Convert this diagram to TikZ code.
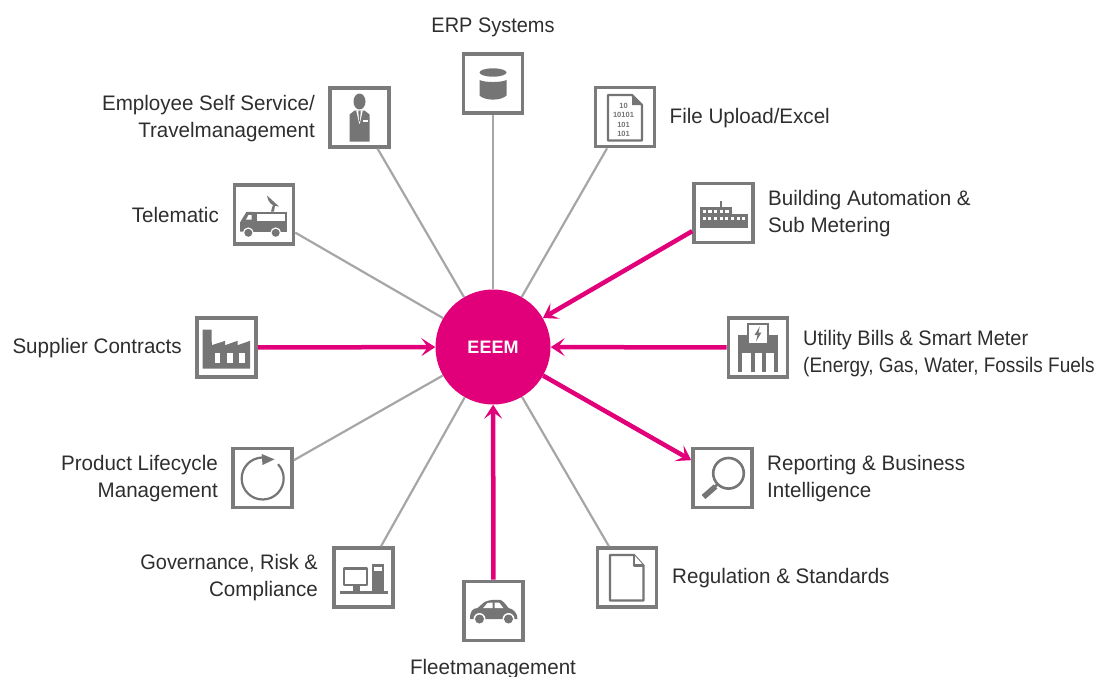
\documentclass[tikz,border=0pt]{standalone}
\usepackage{fontspec}
\setmainfont{Liberation Sans}
\newfontfamily\lblfont[FakeStretch=0.98]{Liberation Sans}
\newfontfamily\lblmid[FakeStretch=0.95]{Liberation Sans}
\newfontfamily\lblnarrow[FakeStretch=0.905]{Liberation Sans}
\usetikzlibrary{arrows.meta}
\definecolor{mag}{HTML}{E2007A}
\definecolor{boxgrey}{HTML}{7B7B7B}
\definecolor{icong}{HTML}{757575}
\definecolor{linegrey}{HTML}{A6A6A6}
\definecolor{txt}{HTML}{2E2E2E}
\tikzset{
  iconbox/.style={draw=boxgrey,line width=3.6pt,fill=white,minimum size=59pt,inner sep=0pt,outer sep=1.8pt},
  hub/.style={circle,fill=mag,text=white,minimum size=115pt,inner sep=0pt,font=\fontsize{18}{20}\selectfont\bfseries},
  lbl/.style={text=txt,font=\lblfont\fontsize{21}{27}\selectfont,inner sep=0pt},
  lblr/.style={lbl,anchor=east,align=right},
  lbll/.style={lbl,anchor=west,align=left},
  thin link/.style={draw=linegrey,line width=2.2pt},
  hot link/.style={draw=mag,line width=4.5pt,-{Stealth[length=14pt,width=18pt,inset=6.5pt]}},
  ink/.style={fill=icong,draw=none},
  hole/.style={fill=white,draw=none},
  edge line/.style={draw=icong,line width=2.2pt,fill=none,line join=round}
}
\begin{document}
\begin{tikzpicture}[x=1pt,y=-1pt]
\useasboundingbox (0,0) rectangle (1098,677);
% boxes and hub
\node[hub] (eeem) at (493,347) {EEEM};
\node[iconbox] (erp) at (493,83.5) {};
\node[iconbox] (ess) at (359.5,117.5) {};
\node[iconbox] (tele) at (264,214.5) {};
\node[iconbox] (file) at (625,117) {};
\node[iconbox] (bldg) at (723.5,213) {};
\node[iconbox] (util) at (758,347.5) {};
\node[iconbox] (rep) at (722.5,478) {};
\node[iconbox] (reg) at (627,577.5) {};
\node[iconbox] (fleet) at (493.5,611) {};
\node[iconbox] (gov) at (363.5,577.5) {};
\node[iconbox] (plm) at (262.5,478) {};
\node[iconbox] (sup) at (226.5,347.5) {};
% connectors
\draw[thin link] (erp) -- (eeem);
\draw[thin link] (ess) -- (eeem);
\draw[thin link] (tele) -- (eeem);
\draw[thin link] (file) -- (eeem);
\draw[thin link] (reg) -- (eeem);
\draw[thin link] (gov) -- (eeem);
\draw[thin link] (plm) -- (eeem);
\draw[hot link] (bldg) -- (eeem);
\draw[hot link] (util) -- (eeem);
\draw[hot link] (sup) -- (eeem);
\draw[hot link] (fleet) -- (eeem);
\draw[hot link] (eeem) -- (rep);
% labels
\node[lbl,font=\lblmid\fontsize{21}{27}\selectfont] (lerp) at (493,27.5) {ERP Systems};
\node[lblr] (less) at (315,119) {Employee Self Service/\\Travelmanagement};
\node[lblr] (ltele) at (219,215) {Telematic};
\node[lblr] (lsup) at (182,348) {Supplier Contracts};
\node[lblr] (lplm) at (218,479) {Product Lifecycle\\Management};
\node[lblr] (lgov) at (318,578) {{\lblmid Governance, Risk \&}\\Compliance};
\node[lbl] (lfleet) at (493,669) {Fleetmanagement};
\node[lbll] (lfile) at (669.5,118) {File Upload/Excel};
\node[lbll] (lbldg) at (768,214) {Building Automation \&\\Sub Metering};
\node[lbll] (lutil) at (803,354) {{\lblmid Utility Bills \& Smart Meter}\\{\lblnarrow (Energy, Gas, Water, Fossils Fuels}};
\node[lbll] (lrep) at (767,479) {Reporting \& Business\\Intelligence};
\node[lbll] (lreg) at (672,578) {Regulation \& Standards};
% icon: database
\begin{scope}[shift={(erp.center)}]
  \fill[ink] (0,-11) ellipse[x radius=13.5pt,y radius=4.2pt];
  \fill[ink] (-13.5,-3.5) .. controls (-8,-0.8) and (8,-0.8) .. (13.5,-3.5) -- (13.5,12) .. controls (8,17.5) and (-8,17.5) .. (-13.5,12) -- cycle;
\end{scope}
% icon: person
\begin{scope}[shift={(ess.center)}]
  \fill[ink] (0,-16) ellipse[x radius=6pt,y radius=8pt];
  \fill[ink] (-10,24) -- (-10,-3) -- (-5,-7) -- (5,-7) -- (10,-3) -- (10,24) -- cycle;
  \fill[hole] (-1.6,-7.2) -- (0,-4) -- (1.6,-7.2) -- (3.2,-6.5) -- (0.3,6) -- (-0.3,6) -- (-3.2,-6.5) -- cycle;
  \fill[ink] (-1.3,-6) -- (1.3,-6) -- (0.2,4) -- (-0.2,4) -- cycle;
  \fill[hole] (3.5,2.5) rectangle (8,4);
\end{scope}
% icon: van
\begin{scope}[shift={(tele.center)}]
  \fill[ink] (-10.7,-2.7) rectangle (23.3,17);
  \fill[ink] (-10.7,-2.7) -- (-17.5,-2.7) -- (-24,8) -- (-24,17) -- (-10.7,17) -- cycle;
  \fill[hole] (-7.3,-0.3) rectangle (21,6.3);
  \fill[hole] (-12.5,0.5) -- (-15.5,0.5) -- (-18,5) -- (-12.5,5) -- cycle;
  \fill[hole] (-15.7,18.3) circle[radius=5.4pt];
  \fill[hole] (11.7,18.3) circle[radius=5.4pt];
  \fill[ink] (-15.7,18.3) circle[radius=4pt];
  \fill[ink] (11.7,18.3) circle[radius=4pt];
  \fill[ink] (7,-3) -- (9,-10) -- (11,-9) -- (10,-3) -- cycle;
  \fill[ink] (3,-19) .. controls (4,-12) and (8,-8) .. (15,-8) -- cycle;
\end{scope}
% icon: binary document
\begin{scope}[shift={(file.center)}]
  \draw[edge line] (-17,-22) -- (7,-22) -- (17,-12) -- (17,23.5) -- (-17,23.5) -- cycle;
  \fill[ink] (7,-22) -- (7,-12) -- (17,-12) -- cycle;
  \node[text=icong,font=\fontsize{7.5}{9.4}\selectfont\bfseries,align=center,inner sep=0pt] (bits) at (-1.5,3) {10\\10101\\101\\101};
\end{scope}
% icon: building
\begin{scope}[shift={(bldg.center)}]
  \fill[ink] (-23.5,-6) rectangle (8,15);
  \fill[ink] (8,1) rectangle (24,15);
  \fill[ink] (-4,-12.5) rectangle (-1.7,-6);
  \foreach \px in {-21,-15.3,-9.7,-4,1.7}{\fill[hole] (\px,-3.3) rectangle ++(3.4,3.2);}
  \foreach \px in {-21,-15.3,-9.7,-4,1.7,7.3,13,18.7}{\fill[hole] (\px,3.5) rectangle ++(3.2,3.2);}
\end{scope}
% icon: utility bill
\begin{scope}[shift={(util.center)}]
  \fill[ink] (-19.7,-12.7) rectangle (20,5);
  \foreach \px in {-19.7,-7,4.3,16}{\fill[ink] (\px,5) rectangle ++(4,19);}
  \draw[draw=icong,line width=1.3pt,fill=white] (-10,-23.5) rectangle (10,-3.7);
  \fill[ink] (1.8,-21) -- (-3.5,-12.5) -- (-0.5,-12.5) -- (-2,-6) -- (3.5,-15) -- (0.5,-15) -- cycle;
\end{scope}
% icon: magnifier
\begin{scope}[shift={(rep.center)}]
  \draw[draw=icong,line width=2.6pt,fill=none] (6,-4.7) circle[radius=15.3pt];
  \draw[draw=icong,line width=2.6pt] (-4.5,6) -- (-9,10);
  \draw[draw=icong,line width=5.5pt] (-7,8.5) -- (-19,19);
\end{scope}
% icon: blank document
\begin{scope}[shift={(reg.center)}]
  \draw[edge line] (-17,-22.5) -- (7,-22.5) -- (16.5,-12) -- (16.5,23) -- (-17,23) -- cycle;
  \draw[edge line,fill=white] (7,-22.5) -- (7,-12) -- (16.5,-12);
\end{scope}
% icon: car
\begin{scope}[shift={(fleet.center)}]
  \fill[ink] (-23.5,8) .. controls (-23.5,0) and (-21,-2.5) .. (-16,-3) -- (-9,-9) .. controls (-4,-11.5) and (3,-11.5) .. (7,-11) .. controls (10,-10) and (13,-5.5) .. (15,-3) .. controls (20,-2) and (24,2) .. (24,8) -- cycle;
  \fill[hole] (-10.5,-2.8) -- (-6,-8) -- (-0.8,-8.5) -- (-0.8,-2.8) -- cycle;
  \fill[hole] (1,-8.5) -- (5.5,-8.5) -- (10,-2.8) -- (1,-2.8) -- cycle;
  \fill[hole] (-14,8) circle[radius=6pt];
  \fill[hole] (15,8) circle[radius=6pt];
  \fill[ink] (-14,8) circle[radius=4.5pt];
  \fill[ink] (15,8) circle[radius=4.5pt];
\end{scope}
% icon: computer
\begin{scope}[shift={(gov.center)}]
  \draw[edge line] (-19.8,-9) rectangle (3.5,7.5);
  \fill[ink] (-11,8) rectangle (-4,13.7);
  \fill[ink] (-23.3,13.7) rectangle (24,16.7);
  \fill[ink] (8.3,-14) rectangle (20,13.7);
  \fill[hole] (10,-11) rectangle (18.3,-7);
\end{scope}
% icon: lifecycle
\begin{scope}[shift={(plm.center)}]
  \draw[draw=icong,line width=2.2pt] (-0.2,-20.5) arc[start angle=91,delta angle=312,radius=21pt];
  \fill[ink] (12,-18.7) -- (-0.8,-24) -- (0,-13) -- cycle;
\end{scope}
% icon: factory
\begin{scope}[shift={(sup.center)}]
  \fill[ink] (-24,-18) -- (-15,-18) -- (-14.7,-2.3) -- (-1.3,-6.7) -- (-1.3,-2.3) -- (11,-6.7) -- (11,-2.3) -- (23.7,-6.7) -- (23.7,21) -- (-24,21) -- cycle;
  \fill[hole] (-11.3,5.3) rectangle (-6.3,15.3);
  \fill[hole] (0.3,5.3) rectangle (6.3,15.3);
  \fill[hole] (12,5.3) rectangle (18.7,15.3);
\end{scope}
\end{tikzpicture}
\end{document}
